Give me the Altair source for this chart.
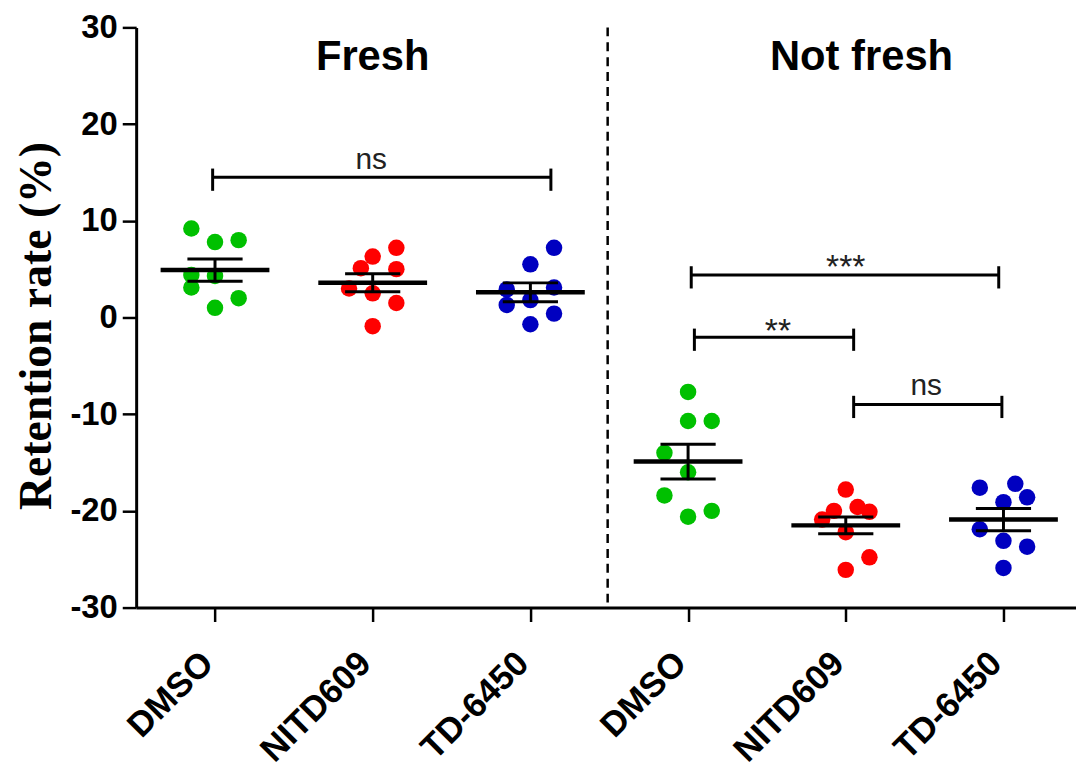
import altair as alt
import pandas as pd

# ---------------- data ----------------
group_names = ["DMSO", "NITD609", "TD-6450", "DMSO", "NITD609", "TD-6450"]
drug_keys = ["DMSO", "NITD609", "TD-6450", "DMSO", "NITD609", "TD-6450"]
condition_names = ["Fresh", "Not fresh"]
condition_center = [2.0, 5.1]
y_tick_values = [-30, -20, -10, 0, 10, 20, 30]

fresh_dmso = [9.2, 7.8, 8.0, 4.4, 4.3, 3.1, 2.0, 1.0]
fresh_dmso_col = [-1, 0, 1, -1, 0, -1, 1, 0]
fresh_nitd = [7.2, 6.3, 5.1, 5.0, 3.0, 2.5, 1.5, -0.9]
fresh_nitd_col = [1, 0, -0.5, 1, -1, 0, 1, 0]
fresh_td = [7.2, 5.5, 3.1, 2.9, 1.8, 1.3, 0.4, -0.7]
fresh_td_col = [1, 0, 1, -1, 0, -1, 1, 0]
old_dmso = [-7.7, -10.7, -10.7, -14.0, -16.0, -18.4, -20.0, -20.6]
old_dmso_col = [0, 0, 1, -1, 0, -1, 1, 0]
old_nitd = [-17.8, -20.0, -19.6, -20.1, -20.9, -22.2, -24.8, -26.1]
old_nitd_col = [0, -0.5, 0.5, 1, -1, 0, 1, 0]
old_td = [-17.6, -17.2, -19.1, -18.6, -21.9, -23.1, -23.7, -25.9]
old_td_col = [-1, 0.5, 0, 1, -1, 0, 1, 0]

group_means = [4.9, 3.6, 2.6, -14.9, -21.5, -20.9]
group_sems = [1.15, 0.93, 0.98, 1.8, 0.87, 1.15]

bracket_start = [0.985, 4.02, 4.04, 5.05]
bracket_end = [3.13, 5.97, 5.05, 5.99]
bracket_level = [14.5, 4.4, -2.05, -9.0]
bracket_label = ["ns", "***", "**", "ns"]
bracket_label_x = [1.99, 5.0, 4.57, 5.51]
bracket_label_y = [15.4, 4.1, -2.5, -8.0]
bracket_label_size = [30, 34, 34, 30]

separator_x = [3.49]

colors = ["#00c000", "#ff0000", "#0000c0"]

# ---------------- tables ----------------
JIT = 0.15
rows = []
series = [(fresh_dmso, fresh_dmso_col), (fresh_nitd, fresh_nitd_col), (fresh_td, fresh_td_col),
          (old_dmso, old_dmso_col), (old_nitd, old_nitd_col), (old_td, old_td_col)]
for gi, (vals, cols) in enumerate(series):
    for v, c in zip(vals, cols):
        rows.append({"pos": gi + 1 + c * JIT, "value": v, "drug": drug_keys[gi]})
points = pd.DataFrame(rows)

HALF_MEAN = 0.345
HALF_CAP = 0.175
stats = pd.DataFrame({
    "pos": [i + 1 for i in range(6)],
    "mean": group_means,
    "sem": group_sems,
})
stats["lo"] = stats["mean"] - stats["sem"]
stats["hi"] = stats["mean"] + stats["sem"]
stats["m0"] = stats["pos"] - HALF_MEAN
stats["m1"] = stats["pos"] + HALF_MEAN
stats["c0"] = stats["pos"] - HALF_CAP
stats["c1"] = stats["pos"] + HALF_CAP

br = pd.DataFrame({"x0": bracket_start, "x1": bracket_end, "y": bracket_level})
br["top"] = br["y"] + 0.9
br["bot"] = br["y"] - 1.4
br_ends = pd.concat([
    pd.DataFrame({"x": br["x0"], "top": br["top"], "bot": br["bot"]}),
    pd.DataFrame({"x": br["x1"], "top": br["top"], "bot": br["bot"]}),
])
br_text = pd.DataFrame({"x": bracket_label_x, "y": bracket_label_y,
                        "label": bracket_label, "size": bracket_label_size})
cond_text = pd.DataFrame({"x": condition_center, "y": [25.6, 25.6], "label": condition_names})
sep = pd.DataFrame({"x": separator_x, "top": [30], "bot": [-30]})

# ---------------- scales ----------------
xs = alt.Scale(domain=[0.5, 6.46], nice=False, zero=False)
ys = alt.Scale(domain=[-30, 30], nice=False, zero=False)

label_expr = ("datum.value == 1 ? 'DMSO' : datum.value == 2 ? 'NITD609' : "
              "datum.value == 3 ? 'TD-6450' : datum.value == 4 ? 'DMSO' : "
              "datum.value == 5 ? 'NITD609' : 'TD-6450'")

x_axis = alt.Axis(
    values=[1, 2, 3, 4, 5, 6], labelExpr=label_expr, title=None, grid=False,
    domainWidth=3, domainColor="black", tickColor="black", tickWidth=2.5, tickSize=14,
    labelAngle=-45, labelAlign="right", labelBaseline="middle", labelPadding=36,
    labelOffset=-8, labelFont="Liberation Sans", labelFontWeight="bold",
    labelFontSize=35, labelColor="black", labelOverlap=False, labelBound=False,
    labelFlush=False,
)
y_axis = alt.Axis(
    values=y_tick_values, labelExpr="toString(datum.value)",
    title="Retention rate (%)", grid=False,
    domainWidth=3, domainColor="black", tickColor="black", tickWidth=2.5, tickSize=14,
    labelFont="Liberation Sans", labelFontWeight="bold", labelFontSize=33,
    labelColor="black", labelPadding=5,
    titleFont="Liberation Serif", titleFontWeight="bold", titleFontSize=46,
    titleColor="black", titleAngle=-90, titleAlign="center", titleBaseline="middle",
    titleX=-100, titleY=300,
)

base_points = alt.Chart(points).mark_circle(size=275, opacity=1).encode(
    x=alt.X("pos:Q", scale=xs, axis=x_axis),
    y=alt.Y("value:Q", scale=ys, axis=y_axis),
    color=alt.Color("drug:N", scale=alt.Scale(domain=["DMSO", "NITD609", "TD-6450"], range=colors),
                    legend=None),
)

mean_lines = alt.Chart(stats).mark_rule(color="black", strokeWidth=4.5).encode(
    x=alt.X("m0:Q", scale=xs), x2="m1:Q",
    y=alt.Y("mean:Q", scale=ys),
)
sem_vert = alt.Chart(stats).mark_rule(color="black", strokeWidth=3).encode(
    x=alt.X("pos:Q", scale=xs),
    y=alt.Y("lo:Q", scale=ys), y2="hi:Q",
)
sem_hi = alt.Chart(stats).mark_rule(color="black", strokeWidth=3).encode(
    x=alt.X("c0:Q", scale=xs), x2="c1:Q",
    y=alt.Y("hi:Q", scale=ys),
)
sem_lo = alt.Chart(stats).mark_rule(color="black", strokeWidth=3).encode(
    x=alt.X("c0:Q", scale=xs), x2="c1:Q",
    y=alt.Y("lo:Q", scale=ys),
)

br_h = alt.Chart(br).mark_rule(color="black", strokeWidth=3).encode(
    x=alt.X("x0:Q", scale=xs), x2="x1:Q",
    y=alt.Y("y:Q", scale=ys),
)
br_v = alt.Chart(br_ends).mark_rule(color="black", strokeWidth=3).encode(
    x=alt.X("x:Q", scale=xs),
    y=alt.Y("top:Q", scale=ys), y2="bot:Q",
)
br_t = alt.Chart(br_text).mark_text(
    font="Liberation Sans", color="#222222", baseline="alphabetic", align="center"
).encode(
    x=alt.X("x:Q", scale=xs),
    y=alt.Y("y:Q", scale=ys),
    text="label:N",
    size=alt.Size("size:Q", scale=None, legend=None),
)

cond_t = alt.Chart(cond_text).mark_text(
    font="Liberation Sans", fontWeight="bold", fontSize=42, color="black",
    baseline="alphabetic", align="center"
).encode(
    x=alt.X("x:Q", scale=xs),
    y=alt.Y("y:Q", scale=ys),
    text="label:N",
)

sep_rule = alt.Chart(sep).mark_rule(color="black", strokeWidth=2.5, strokeDash=[9, 6]).encode(
    x=alt.X("x:Q", scale=xs),
    y=alt.Y("top:Q", scale=ys), y2="bot:Q",
)

chart = alt.layer(
    base_points, sep_rule, mean_lines, sem_vert, sem_hi, sem_lo, br_h, br_v, br_t, cond_t
).properties(
    width=946, height=584,
    autosize=alt.AutoSizeParams(type="none"),
    padding={"left": 129, "top": 17, "right": 0, "bottom": 166},
    background="white",
).configure_view(stroke=None)

chart.save("out.html", embed_options={"renderer": "svg", "actions": False})
